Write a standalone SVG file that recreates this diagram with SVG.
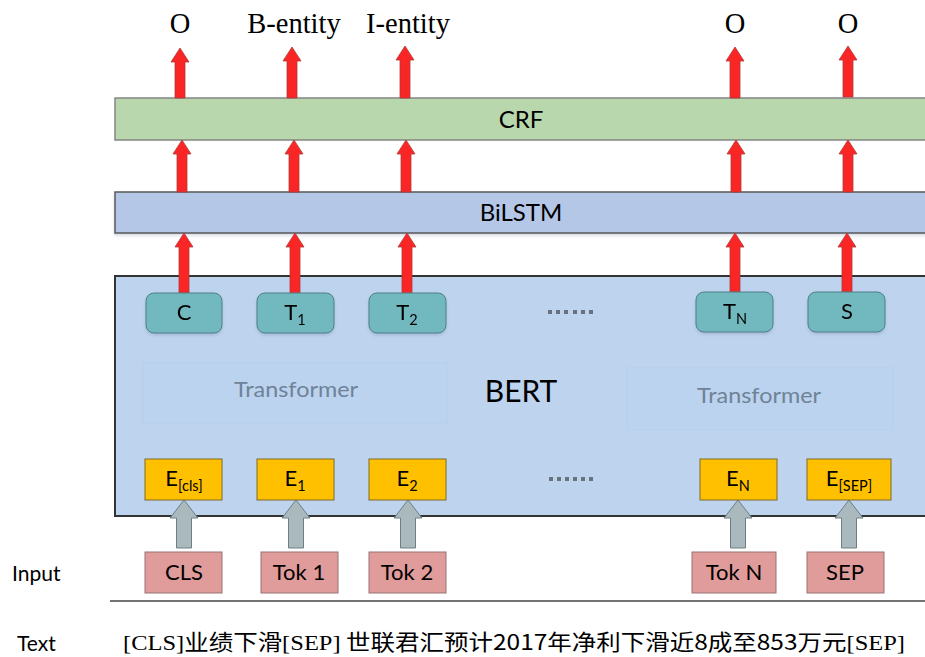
<svg xmlns="http://www.w3.org/2000/svg" width="925" height="657" viewBox="0 0 925 657">
  <defs>
    <filter id="soft" x="-20%" y="-20%" width="140%" height="160%">
      <feDropShadow dx="0" dy="2" stdDeviation="1.5" flood-color="#5a7090" flood-opacity="0.25"/>
    </filter>
    <style>
      .sans { font-family: Lato, "Open Sans", "Liberation Sans", sans-serif; fill: #000; }
      .serif { font-family: "Liberation Serif", "Times New Roman", serif; fill: #000; }
      .tag { font-size: 28.5px; text-anchor: middle; }
      .bar-crf { fill: #b9d7ad; stroke: #858585; stroke-width: 1.5; }
      .bar-lstm { fill: #b4c7e7; stroke: #5a5a5a; stroke-width: 1.5; }
      .bert { fill: #bdd3ee; stroke: #333; stroke-width: 2; }
      .tf-box { fill: #bbd3ee; stroke: #b7cfea; stroke-width: 1; }
      .tf-text { font-size: 22px; fill: #6f8297; text-anchor: middle; }
      .out { fill: #72b9bf; stroke: #4f7f86; stroke-width: 1; }
      .emb { fill: #ffc000; stroke: #7f6a2a; stroke-width: 1; }
      .tok { fill: #e09b9b; stroke: #9a7272; stroke-width: 1; }
      .lbl { font-size: 22px; text-anchor: middle; }
      .sub { font-size: 14.5px; }
      .red { fill: #fa2626; stroke: #b03a3a; stroke-width: 0.8; }
      .gray { fill: #a9b9bd; stroke: #6e7e82; stroke-width: 1; }
      .dot { fill: #68717d; }
    </style>
  </defs>

  <!-- output tags -->
  <g id="tags">
    <text class="serif tag" x="180" y="33">O</text>
    <text class="serif tag" x="294" y="33">B-entity</text>
    <text class="serif tag" x="408" y="33">I-entity</text>
    <text class="serif tag" x="735" y="33">O</text>
    <text class="serif tag" x="848" y="33">O</text>
  </g>

  <!-- CRF layer -->
  <g id="crf">
    <rect class="bar-crf" x="115" y="98" width="820" height="42"/>
    <text class="sans" x="521" y="128" font-size="24" text-anchor="middle">CRF</text>
  </g>

  <!-- BiLSTM layer -->
  <g id="bilstm">
    <rect class="bar-lstm" x="115" y="192" width="820" height="41" filter="url(#soft)"/>
    <text class="sans" x="521" y="221" font-size="24" text-anchor="middle">BiLSTM</text>
  </g>

  <!-- BERT block -->
  <g id="bert">
    <rect class="bert" x="115" y="276" width="820" height="240"/>
    <rect class="tf-box" x="143" y="363" width="304" height="60"/>
    <rect class="tf-box" x="627" y="368" width="266" height="62"/>
    <text class="sans tf-text" x="296" y="397" textLength="124" lengthAdjust="spacingAndGlyphs">Transformer</text>
    <text class="sans tf-text" x="759" y="403" textLength="124" lengthAdjust="spacingAndGlyphs">Transformer</text>
    <text class="sans" x="521" y="402" font-size="30" text-anchor="middle">BERT</text>
    <g id="dots-top">
      <rect class="dot" x="548" y="310" width="4" height="4"/>
      <rect class="dot" x="556" y="310" width="4" height="4"/>
      <rect class="dot" x="564" y="310" width="4" height="4"/>
      <rect class="dot" x="573" y="310" width="4" height="4"/>
      <rect class="dot" x="581" y="310" width="4" height="4"/>
      <rect class="dot" x="589" y="310" width="4" height="4"/>
    </g>
    <g id="dots-bottom">
      <rect class="dot" x="549" y="477" width="4" height="4"/>
      <rect class="dot" x="557" y="477" width="4" height="4"/>
      <rect class="dot" x="565" y="477" width="4" height="4"/>
      <rect class="dot" x="573" y="477" width="4" height="4"/>
      <rect class="dot" x="581" y="477" width="4" height="4"/>
      <rect class="dot" x="589" y="477" width="4" height="4"/>
    </g>
  </g>

  <!-- connectors -->
  <g id="connectors">
    <!-- CRF to tags -->
    <polygon class="red" points="175,98 175,62 171,62 180,48 189,62 185,62 185,98"/>
    <polygon class="red" points="287,98 287,61 283,61 292,47 301,61 297,61 297,98"/>
    <polygon class="red" points="400,98 400,60 396,60 405,46 414,60 410,60 410,98"/>
    <polygon class="red" points="730,98 730,61 726,61 735,47 744,61 740,61 740,98"/>
    <polygon class="red" points="843,97 843,60 839,60 848,46 857,60 853,60 853,97"/>
    <!-- BiLSTM to CRF -->
    <polygon class="red" points="177,192 177,154 173,154 182,140 191,154 187,154 187,192"/>
    <polygon class="red" points="289,192 289,154 285,154 294,140 303,154 299,154 299,192"/>
    <polygon class="red" points="401,192 401,154 397,154 406,140 415,154 411,154 411,192"/>
    <polygon class="red" points="731,192 731,154 727,154 736,140 745,154 741,154 741,192"/>
    <polygon class="red" points="843,192 843,154 839,154 848,140 857,154 853,154 853,192"/>
    <!-- BERT outputs to BiLSTM -->
    <polygon class="red" points="179,293 179,247 175,247 184,233 193,247 189,247 189,293"/>
    <polygon class="red" points="290,293 290,247 286,247 295,233 304,247 300,247 300,293"/>
    <polygon class="red" points="402,293 402,247 398,247 407,233 416,247 412,247 412,293"/>
    <polygon class="red" points="730,292 730,247 726,247 735,233 744,247 740,247 740,292"/>
    <polygon class="red" points="842,292 842,247 838,247 847,233 856,247 852,247 852,292"/>
    <!-- tokens to embeddings -->
    <polygon class="gray" points="176.5,548 176.5,518 170,518 184,500 198,518 191.5,518 191.5,548"/>
    <polygon class="gray" points="288.5,548 288.5,518 282,518 296,500 310,518 303.5,518 303.5,548"/>
    <polygon class="gray" points="400.5,548 400.5,518 394,518 408,500 422,518 415.5,518 415.5,548"/>
    <polygon class="gray" points="730.5,548 730.5,518 724,518 738,500 752,518 745.5,518 745.5,548"/>
    <polygon class="gray" points="841.5,548 841.5,518 835,518 849,500 863,518 856.5,518 856.5,548"/>
  </g>

  <!-- BERT output nodes -->
  <g id="node-c" filter="url(#soft)">
    <rect class="out" x="146" y="293" width="76" height="40" rx="8"/>
    <text class="sans lbl" x="184" y="320">C</text>
  </g>
  <g id="node-t1" filter="url(#soft)">
    <rect class="out" x="257" y="293" width="77" height="40" rx="8"/>
    <text class="sans lbl" x="295" y="320">T<tspan class="sub" dy="5">1</tspan></text>
  </g>
  <g id="node-t2" filter="url(#soft)">
    <rect class="out" x="369" y="293" width="77" height="40" rx="8"/>
    <text class="sans lbl" x="407" y="320">T<tspan class="sub" dy="5">2</tspan></text>
  </g>
  <g id="node-tn" filter="url(#soft)">
    <rect class="out" x="696" y="292" width="77" height="40" rx="8"/>
    <text class="sans lbl" x="735" y="319">T<tspan class="sub" dy="5">N</tspan></text>
  </g>
  <g id="node-s" filter="url(#soft)">
    <rect class="out" x="808" y="292" width="77" height="40" rx="8"/>
    <text class="sans lbl" x="847" y="319">S</text>
  </g>

  <!-- embedding nodes -->
  <g id="emb-cls">
    <rect class="emb" x="145" y="459" width="77" height="41"/>
    <text class="sans lbl" x="184" y="486">E<tspan class="sub" dy="5">[cls]</tspan></text>
  </g>
  <g id="emb-1">
    <rect class="emb" x="257" y="459" width="77" height="41"/>
    <text class="sans lbl" x="295" y="486">E<tspan class="sub" dy="5">1</tspan></text>
  </g>
  <g id="emb-2">
    <rect class="emb" x="369" y="459" width="77" height="41"/>
    <text class="sans lbl" x="407" y="486">E<tspan class="sub" dy="5">2</tspan></text>
  </g>
  <g id="emb-n">
    <rect class="emb" x="700" y="459" width="77" height="41"/>
    <text class="sans lbl" x="738" y="486">E<tspan class="sub" dy="5">N</tspan></text>
  </g>
  <g id="emb-sep">
    <rect class="emb" x="807" y="459" width="84" height="41"/>
    <text class="sans lbl" x="849" y="486">E<tspan class="sub" dy="5">[SEP]</tspan></text>
  </g>

  <!-- input tokens -->
  <g id="tok-cls">
    <rect class="tok" x="145" y="552" width="77" height="41"/>
    <text class="sans lbl" x="184" y="580">CLS</text>
  </g>
  <g id="tok-1">
    <rect class="tok" x="261" y="552" width="77" height="41"/>
    <text class="sans lbl" x="299" y="580">Tok 1</text>
  </g>
  <g id="tok-2">
    <rect class="tok" x="369" y="552" width="77" height="41"/>
    <text class="sans lbl" x="407" y="580">Tok 2</text>
  </g>
  <g id="tok-n">
    <rect class="tok" x="692" y="552" width="84" height="41"/>
    <text class="sans lbl" x="734" y="580">Tok N</text>
  </g>
  <g id="tok-sep">
    <rect class="tok" x="807" y="552" width="77" height="41"/>
    <text class="sans lbl" x="845" y="580">SEP</text>
  </g>

  <!-- row labels and source sentence -->
  <g id="legend">
    <text class="sans" x="12" y="581" font-size="21">Input</text>
    <line x1="110" y1="601" x2="925" y2="601" stroke="#444" stroke-width="1.5"/>
    <text class="sans" x="17" y="651" font-size="21">Text</text>
    <text x="123" y="650" font-size="22" textLength="782" lengthAdjust="spacingAndGlyphs" font-family="'Noto Sans CJK SC', 'Noto Sans', sans-serif"><tspan font-family="'Liberation Serif', serif">[CLS]</tspan>业绩下滑<tspan font-family="'Liberation Serif', serif">[SEP]</tspan> 世联君汇预计2017年净利下滑近8成至853万元<tspan font-family="'Liberation Serif', serif">[SEP]</tspan></text>
  </g>
</svg>
